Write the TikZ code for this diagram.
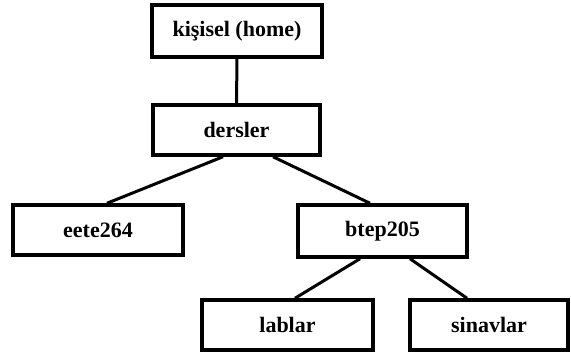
\documentclass[tikz,border=0pt]{standalone}
\usepackage{fontspec}
\setmainfont{Liberation Serif}
\usepackage{tikz}
\usetikzlibrary{positioning}
\tikzstyle{folder} = [rectangle, minimum width=168pt, minimum height=50pt, inner sep=0pt, text centered, draw=black, line width=3.5pt, fill=white, font=\fontsize{22}{24}\selectfont\bfseries]
\tikzstyle{branch} = [line width=3pt, black]

\begin{document}
\begin{tikzpicture}[x=1pt, y=-1pt]
      \useasboundingbox (0,0) rectangle (571,353);
      % Nodes
      %% top of the tree
      \node (home)      [folder, minimum width=170pt, minimum height=52pt] at (237,31)   {kişisel (home)};
      \node (dersler)   [folder, minimum width=167pt] at (236.5,130) {dersler};
      %%% second level
      \node (eete264)   [folder, minimum width=170pt] at (98,230)    {eete264};
      \node (btep205)   [folder, minimum width=169pt, minimum height=52pt] at (382.5,231) {btep205};
      %%% third level
      \node (lablar)    [folder, minimum width=171pt] at (287.5,325) {lablar};
      \node (sinavlar)  [folder, minimum width=158pt] at (489,325)   {sinavlar};

      % % Lines
      \draw [branch] (home.south)                      -- (dersler.north);
      \draw [branch] ([xshift=-13.5pt]dersler.south)   -- ([xshift=9pt]eete264.north);
      \draw [branch] ([xshift=36.5pt]dersler.south)    -- ([xshift=-12.5pt]btep205.north);
      \draw [branch] ([xshift=-22.5pt]btep205.south)   -- ([xshift=7.5pt]lablar.north);
      \draw [branch] ([xshift=27.5pt]btep205.south)    -- ([xshift=-22pt]sinavlar.north);
\end{tikzpicture}
\end{document}
